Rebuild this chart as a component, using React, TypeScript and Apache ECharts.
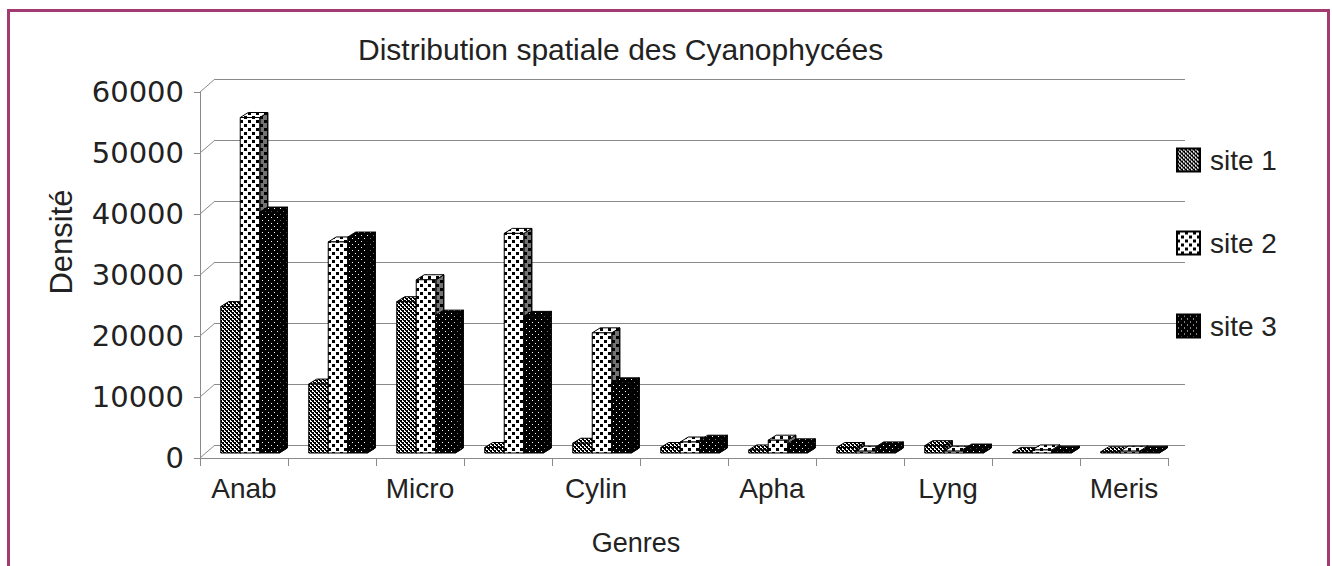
import React, { useEffect, useRef } from "react";
import * as echarts from "echarts";

const titleText = "Distribution spatiale des Cyanophycées";
const xAxisTitle = "Genres";
const yAxisTitle = "Densité";
const categories = ["Anab", "", "Micro", "", "Cylin", "", "Apha", "", "Lyng", "", "Meris"];
const seriesNames = ["site 1", "site 2", "site 3"];
const site1 = [24000, 11300, 24800, 900, 1600, 900, 500, 900, 1200, 100, 200];
const site2 = [55000, 34600, 28400, 36000, 19700, 1800, 2100, 300, 300, 500, 300];
const site3 = [39500, 35400, 22600, 22400, 11500, 2100, 1500, 1000, 650, 300, 300];
const yTicks = [0, 10000, 20000, 30000, 40000, 50000, 60000];

const FONT = "'Liberation Sans', Arial, sans-serif";

function makePattern(kind: number) {
  const c = document.createElement("canvas");
  let size = 4;
  if (kind === 0) {
    size = 4;
    c.width = size; c.height = size;
    const g = c.getContext("2d")!;
    g.fillStyle = "#fff"; g.fillRect(0, 0, size, size);
    g.fillStyle = "#000";
    g.fillRect(0, 0, 2, 2);
    g.fillRect(2, 2, 2, 2);
    g.fillRect(3, 0, 1, 1);
    g.fillRect(1, 2, 1, 1);
  } else if (kind === 1) {
    size = 8;
    c.width = size; c.height = size;
    const g = c.getContext("2d")!;
    g.fillStyle = "#fff"; g.fillRect(0, 0, size, size);
    g.fillStyle = "#000";
    g.fillRect(0, 0, 3, 3);
    g.fillRect(4, 4, 3, 3);
  } else {
    size = 6;
    c.width = size; c.height = size;
    const g = c.getContext("2d")!;
    g.fillStyle = "#000"; g.fillRect(0, 0, size, size);
    g.fillStyle = "#fff";
    g.fillRect(1, 1, 1, 1);
    g.fillRect(4, 4, 1, 1);
  }
  return { image: c.toDataURL(), repeat: "repeat", imageWidth: size, imageHeight: size } as any;
}

const DX = 8, DY = 5, SHIFT_X = 6, SHIFT_Y = 5;

export default function App() {
  const ref = useRef<HTMLDivElement>(null);
  useEffect(() => {
    const chart = echarts.init(ref.current!, null, { renderer: "svg" });
    const fills = [makePattern(0), makePattern(1), makePattern(2)];
    const datas = [site1, site2, site3];

    const barSeries = datas.map((arr, si) => ({
      type: "custom",
      name: seriesNames[si],
      xAxisIndex: 0,
      yAxisIndex: 0,
      itemStyle: { color: fills[si], borderColor: "#000", borderWidth: 1 },
      data: arr.map((v, i) => [i, v]),
      encode: { x: 0, y: 1 },
      z: 3,
      renderItem: (params: any, api: any) => {
        const ci = api.value(0);
        const v = api.value(1);
        const base = api.coord([ci, 0]);
        const top = api.coord([ci, v]);
        const bw = api.size([1, 0])[0] * 0.2216;
        const x0 = base[0] - bw * 1.5 + si * bw + SHIFT_X;
        const x1 = x0 + bw;
        const yb = base[1] - SHIFT_Y;
        const yt = top[1] - SHIFT_Y;
        const fill = fills[si];
        const side = [[x1, yb], [x1 + DX, yb - DY], [x1 + DX, yt - DY], [x1, yt]];
        const topFace = [[x0, yt], [x1, yt], [x1 + DX, yt - DY], [x0 + DX, yt - DY]];
        return {
          type: "group",
          children: [
            { type: "polygon", shape: { points: side }, style: { fill, stroke: "#000", lineWidth: 1 } },
            { type: "polygon", shape: { points: side }, style: { fill: "rgba(0,0,0,0.55)", stroke: "#000", lineWidth: 1 } },
            { type: "polygon", shape: { points: topFace }, style: { fill, stroke: "#000", lineWidth: 1 } },
            { type: "rect", shape: { x: x0, y: yt, width: bw, height: yb - yt }, style: { fill, stroke: "#000", lineWidth: 1 } },
          ],
        };
      },
    }));

    const frameSeries = {
      type: "custom",
      name: "frame",
      xAxisIndex: 0,
      yAxisIndex: 0,
      silent: true,
      z: 1,
      data: yTicks.map((v) => [0, v]),
      encode: { x: 0, y: 1 },
      renderItem: (params: any, api: any) => {
        const y = api.coord([0, api.value(1)])[1];
        const x = params.coordSys.x;
        return {
          type: "line",
          shape: { x1: x, y1: y, x2: x + 15, y2: y - 13 },
          style: { stroke: "#8a8a8a", lineWidth: 1 },
        };
      },
    };

    chart.setOption({
      animation: false,
      backgroundColor: "#fff",
      title: {
        text: titleText,
        left: 353,
        top: 29,
        textStyle: { fontFamily: FONT, fontSize: 30, fontWeight: "normal", color: "#222" },
      },
      legend: {
        data: seriesNames,
        orient: "vertical",
        left: 1171,
        top: 141,
        itemWidth: 23,
        itemHeight: 23,
        itemGap: 55,
        icon: "rect",
        textStyle: { fontFamily: FONT, fontSize: 28, color: "#222", lineHeight: 28, padding: [0, 0, 0, 5] },
      },
      grid: [
        { left: 200, right: 164, top: 92, bottom: 108 },
        { left: 215, right: 147, top: 79, bottom: 121 },
      ],
      xAxis: [
        {
          type: "category",
          gridIndex: 0,
          data: categories,
          axisLine: { show: true, lineStyle: { color: "#8a8a8a", width: 1 } },
          axisTick: { show: true, interval: 0, length: 8, lineStyle: { color: "#8a8a8a" } },
          axisLabel: { interval: 0, margin: 16, fontFamily: FONT, fontSize: 28, color: "#222" },
          splitLine: { show: false },
        },
        { type: "value", gridIndex: 1, min: 0, max: 1, show: false },
      ],
      yAxis: [
        {
          type: "value",
          gridIndex: 0,
          min: 0,
          max: 60000,
          interval: 10000,
          axisLine: { show: true, lineStyle: { color: "#8a8a8a", width: 1 } },
          axisTick: { show: true, length: 6, lineStyle: { color: "#8a8a8a" } },
          axisLabel: {
            margin: 16,
            fontFamily: "'DejaVu Sans', sans-serif",
            fontSize: 29,
            color: "#222",
            formatter: (v: number) => String(v),
          },
          splitLine: { show: false },
        },
        {
          type: "value",
          gridIndex: 1,
          min: 0,
          max: 60000,
          interval: 10000,
          axisLine: { show: false },
          axisTick: { show: false },
          axisLabel: { show: false },
          splitLine: { show: true, lineStyle: { color: "#8a8a8a", width: 1.2 } },
        },
      ],
      graphic: [
        {
          type: "rect",
          shape: { x: 8.5, y: 10.5, width: 1320, height: 600 },
          style: { fill: "none", stroke: "#a33b72", lineWidth: 3 },
          silent: true,
        },
        {
          type: "text",
          x: 636,
          y: 543,
          style: { text: xAxisTitle, fontFamily: FONT, fontSize: 27, fill: "#222", textAlign: "center", textVerticalAlign: "middle" },
        },
        {
          type: "text",
          x: 61,
          y: 242,
          rotation: Math.PI / 2,
          style: { text: yAxisTitle, fontFamily: FONT, fontSize: 31, fill: "#222", textAlign: "center", textVerticalAlign: "middle" },
        },
      ],
      series: [frameSeries, ...barSeries],
    } as any);
    return () => chart.dispose();
  }, []);
  return <div ref={ref} style={{ position: "fixed", left: 0, top: 0, width: 1332, height: 566 }} />;
}
